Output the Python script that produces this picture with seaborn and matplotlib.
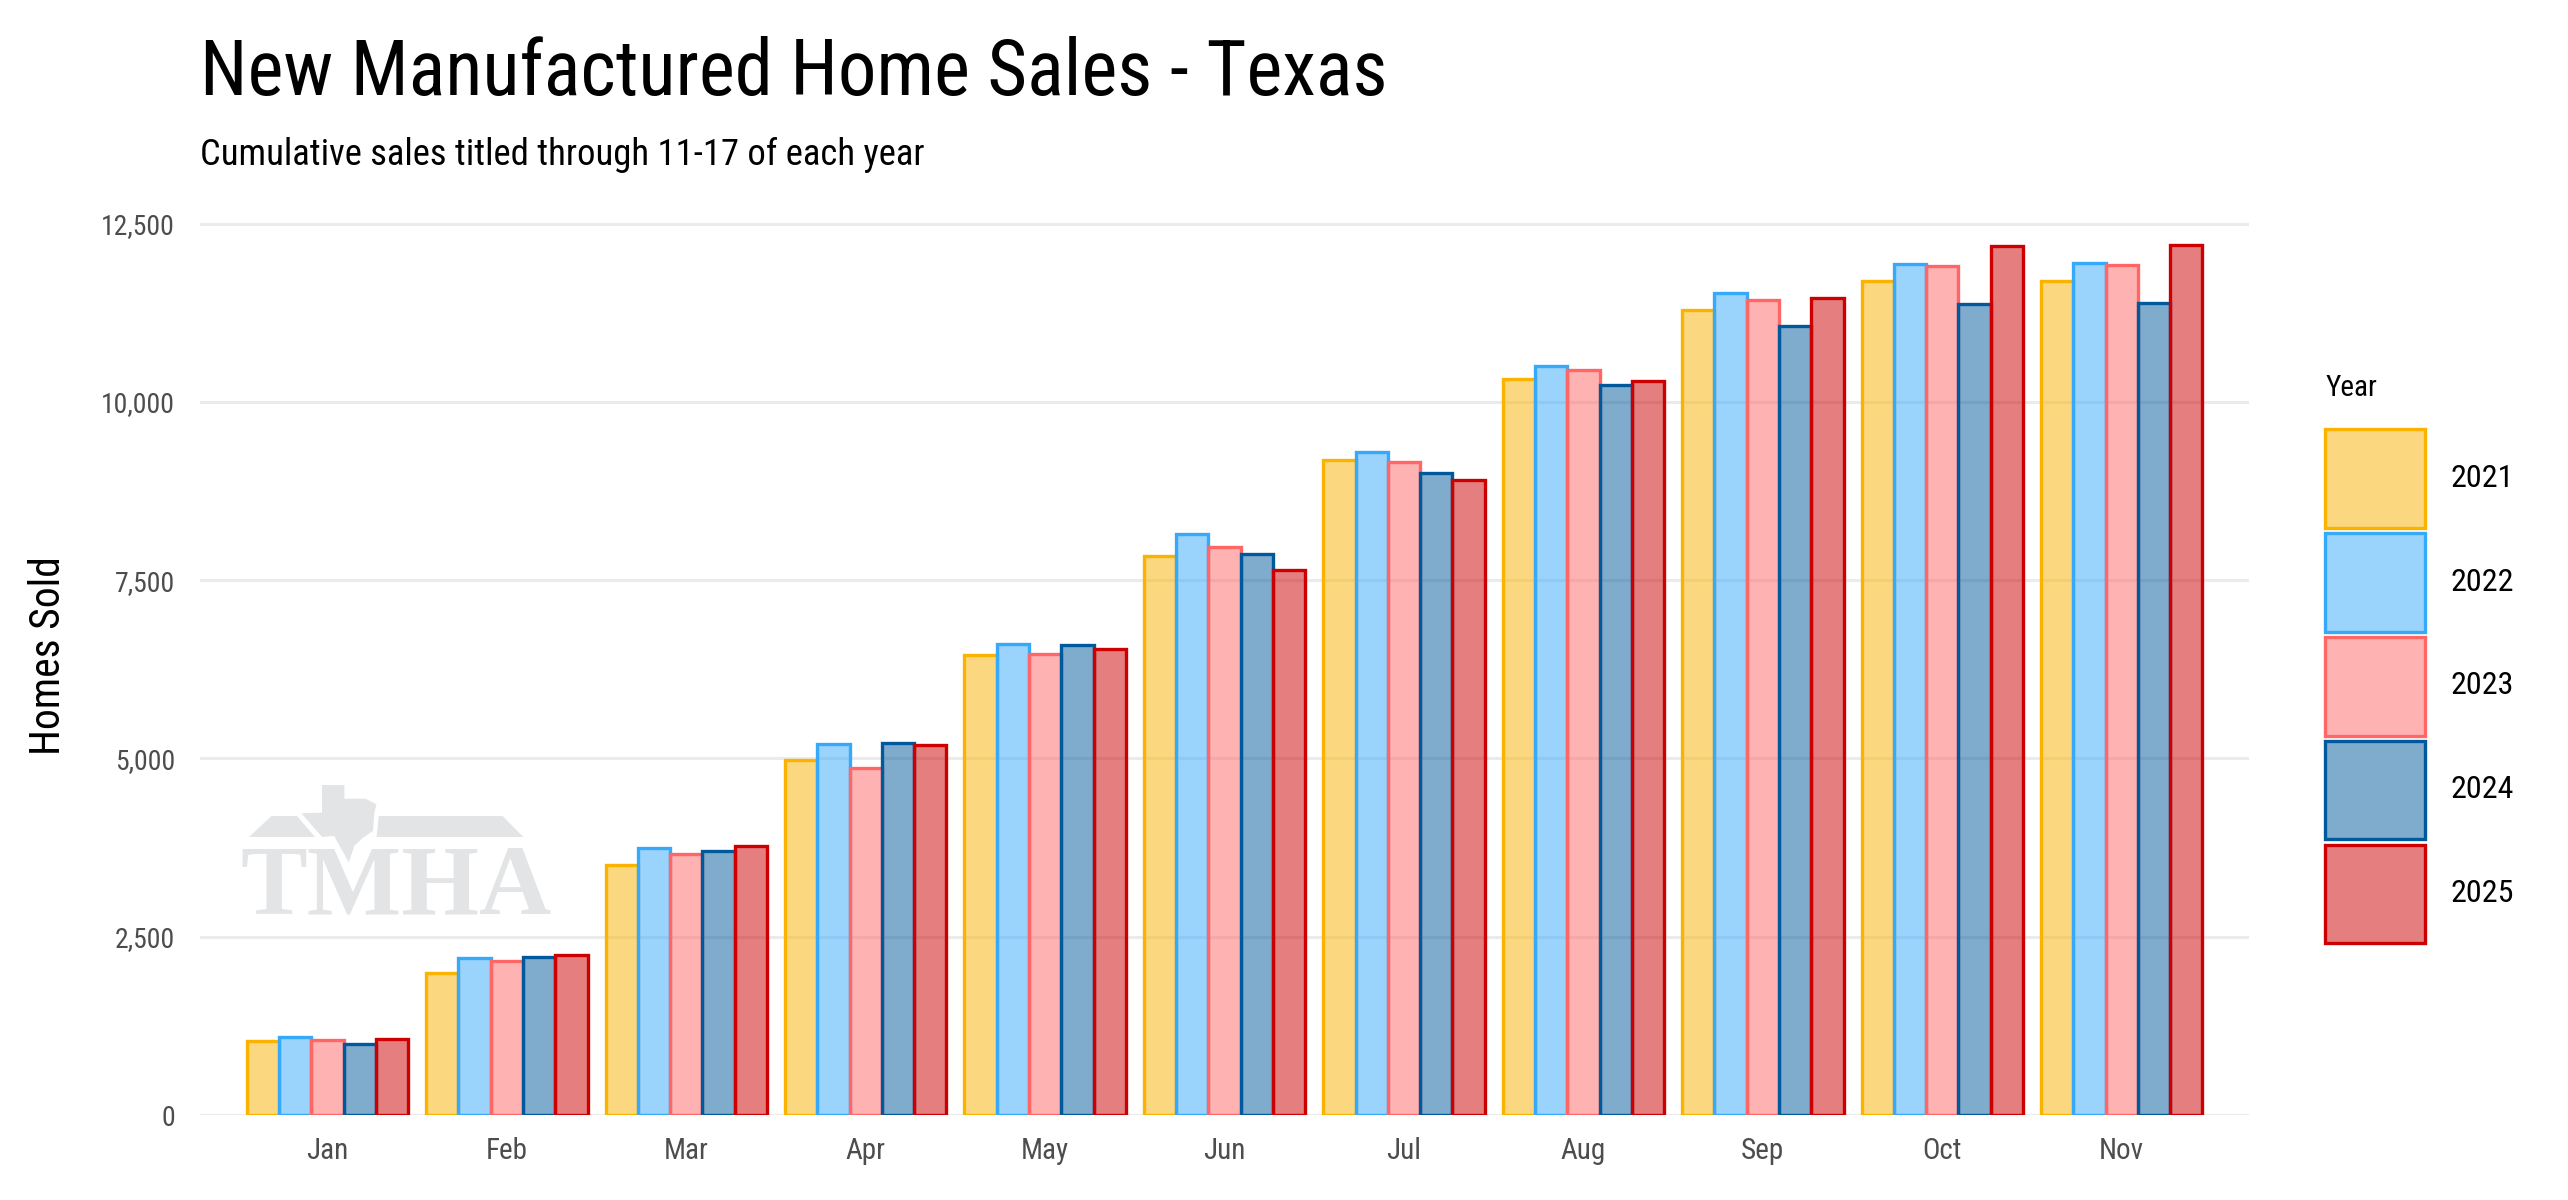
import numpy as np
import pandas as pd
import matplotlib
matplotlib.use("Agg")
import matplotlib.pyplot as plt
import matplotlib.patches as mpatches
from matplotlib.colors import to_rgba
from matplotlib.ticker import StrMethodFormatter
import seaborn as sns

# data (cumulative homes sold)
months = ['Jan', 'Feb', 'Mar', 'Apr', 'May', 'Jun', 'Jul', 'Aug', 'Sep', 'Oct', 'Nov']
years = ['2021', '2022', '2023', '2024', '2025']
sales_2021 = [1040, 1990, 3500, 4980, 6450, 7840, 9180, 10320, 11290, 11690, 11700]
sales_2022 = [1100, 2195, 3740, 5200, 6610, 8140, 9290, 10500, 11520, 11930, 11950]
sales_2023 = [1055, 2155, 3660, 4870, 6460, 7960, 9160, 10450, 11430, 11900, 11920]
sales_2024 = [995, 2220, 3700, 5210, 6590, 7860, 9000, 10240, 11070, 11370, 11385]
sales_2025 = [1070, 2240, 3770, 5190, 6530, 7640, 8910, 10290, 11460, 12180, 12205]
y_ticks = [0, 2500, 5000, 7500, 10000, 12500]

edge_colors = ['#F9B300', '#36A9FB', '#FF6666', '#00599C', '#CC0000']

rows = []
for yr, vals in zip(years, [sales_2021, sales_2022, sales_2023, sales_2024, sales_2025]):
    for m, v in zip(months, vals):
        rows.append({'Month': m, 'Year': yr, 'Sales': v})
df = pd.DataFrame(rows)

sns.set_style('white')
plt.rcParams['font.family'] = ['Roboto Condensed', 'DejaVu Sans']
plt.rcParams['text.color'] = 'black'

fig = plt.figure(figsize=(12.84, 6.0), dpi=200)
ax = fig.add_axes([0.0779, 0.0708, 0.7979, 0.7667])

# TMHA watermark (drawn in axes fraction, behind everything)
lx0, lx1, ly0, ly1 = 0.0196, 0.1719, 0.2191, 0.3587
def logo_pt(zx, zy):
    return (lx0 + (zx - 135) / 698 * (lx1 - lx0), ly0 + (793 - zy) / 386 * (ly1 - ly0))
logo_color = '#E3E4E6'
roof_left = [(155, 563), (205, 500), (262, 500), (302, 563)]
roof_right = [(445, 500), (722, 500), (768, 563), (440, 563)]
texas = [(318, 407), (368, 407), (368, 448), (415, 448), (440, 465), (435, 490),
         (432, 545), (410, 565), (390, 590), (378, 640), (345, 560), (318, 563),
         (272, 492), (318, 490)]
for poly in [roof_left, roof_right, texas]:
    ax.add_patch(mpatches.Polygon([logo_pt(*p) for p in poly], closed=True,
                                  facecolor=logo_color, edgecolor='none',
                                  transform=ax.transAxes, zorder=0))
ax.text((lx0 + lx1) / 2, ly0, 'TMHA', transform=ax.transAxes, ha='center', va='baseline',
        fontsize=36, fontweight='bold', family='Liberation Serif', color=logo_color, zorder=0)

sns.barplot(data=df, x='Month', y='Sales', hue='Year', order=months, hue_order=years,
            palette=edge_colors, saturation=1, width=0.9, legend=False, errorbar=None, ax=ax)

for cont, col in zip(ax.containers, edge_colors):
    for bar in cont:
        bar.set_facecolor(to_rgba(col, 0.5))
        bar.set_edgecolor(col)
        bar.set_linewidth(1.2)
        bar.set_zorder(2)

ax.set_xlim(-0.71, 10.71)
ax.set_ylim(0, 12900)
ax.set_yticks(y_ticks)
ax.yaxis.set_major_formatter(StrMethodFormatter('{x:,.0f}'))
ax.yaxis.grid(True, color='#EBEBEB', linewidth=1.1, zorder=1)
ax.xaxis.grid(False)
ax.set_axisbelow(True)
for s in ax.spines.values():
    s.set_visible(False)
ax.tick_params(axis='both', length=0, labelcolor='#4D4D4D')
ax.tick_params(axis='y', pad=9, labelsize=10)
ax.tick_params(axis='x', pad=8, labelsize=10.5)
ax.set_xlabel('')
ax.set_ylabel('')

fig.text(0.019, 0.454, 'Homes Sold', rotation=90, ha='center', va='center', fontsize=15)
fig.text(0.0779, 0.921, 'New Manufactured Home Sales - Texas', ha='left', va='baseline',
         fontsize=27.6)
fig.text(0.0779, 0.8625, 'Cumulative sales titled through 11-17 of each year', ha='left',
         va='baseline', fontsize=13.2)

# legend
fig.text(0.9054, 1 - 388 / 1200, 'Year', ha='left', va='center', fontsize=10.5)
handles = [mpatches.Patch(facecolor=to_rgba(c, 0.5), edgecolor=c, linewidth=1.2, label=y)
           for c, y in zip(edge_colors, years)]
fig.legend(handles=handles, loc='upper left', bbox_to_anchor=(0.9054, 0.6425),
           frameon=False, fontsize=11.5, handlelength=3.13, handleheight=4.38,
           labelspacing=0.16, handletextpad=0.8, borderpad=0, borderaxespad=0)

fig.savefig('out.png', dpi=200)
